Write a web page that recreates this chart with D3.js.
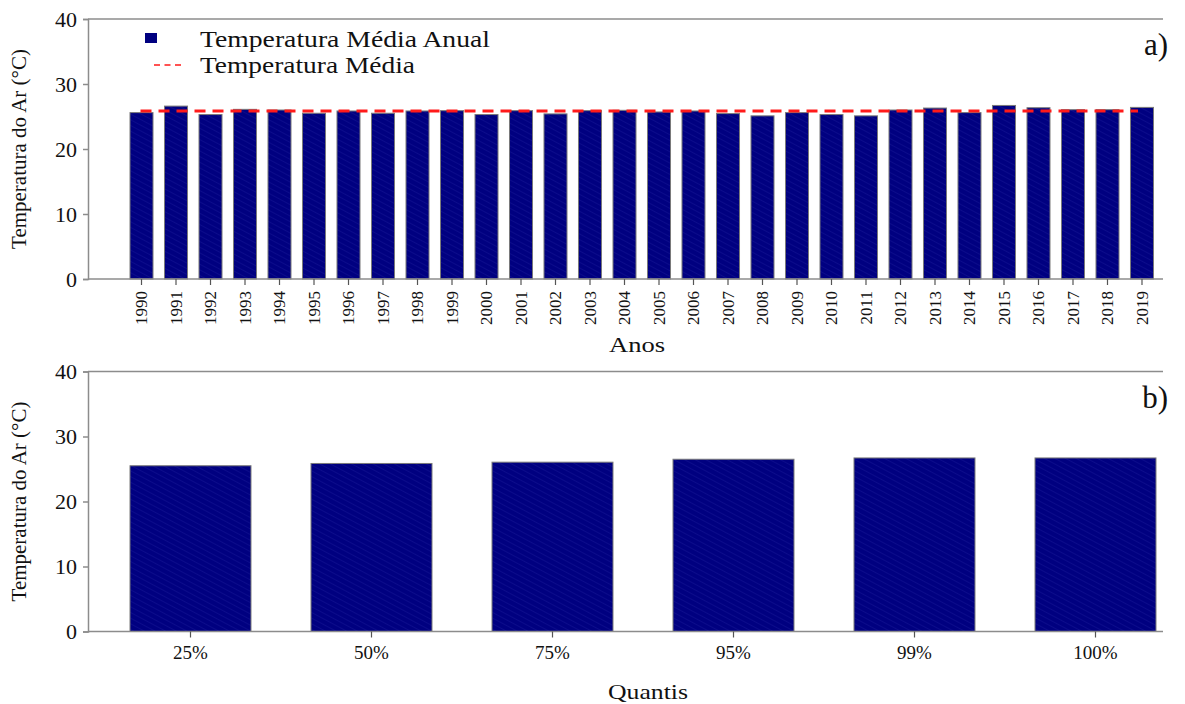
<!DOCTYPE html>
<html>
<head>
<meta charset="utf-8">
<script src="https://cdn.jsdelivr.net/npm/d3@7"></script>
<style>
  html, body { margin: 0; padding: 0; background: #fff; }
  svg text { font-family: "Liberation Serif", "Times New Roman", Times, "DejaVu Serif", serif; }
</style>
</head>
<body>
<svg id="chart" width="1185" height="704"></svg>
<script>
// Annual mean air temperature (°C), 1990–2019
const years = ["1990","1991","1992","1993","1994","1995","1996","1997","1998","1999",
               "2000","2001","2002","2003","2004","2005","2006","2007","2008","2009",
               "2010","2011","2012","2013","2014","2015","2016","2017","2018","2019"];
const annualTemp = [25.6, 26.6, 25.3, 26.1, 26.0, 25.5, 25.85, 25.5, 25.85, 25.9,
                    25.3, 25.9, 25.4, 25.9, 25.95, 25.7, 25.85, 25.45, 25.1, 25.6,
                    25.3, 25.1, 26.0, 26.3, 25.6, 26.7, 26.35, 26.05, 26.05, 26.4];
const meanTemp = 25.85;

// Quantiles of the annual series
const quantiles = ["25%", "50%", "75%", "95%", "99%", "100%"];
const quantileTemp = [25.5, 25.85, 26.05, 26.5, 26.7, 26.7];

const yTicks = [0, 10, 20, 30, 40];
const yLabel = "Temperatura do Ar (°C)";

const FONT = '"Liberation Serif", "Times New Roman", Times, "DejaVu Serif", serif';
const svg = d3.select("#chart").attr("font-family", FONT);
const navy = "#000080";
const axisColor = "#8c8c8c";

// Subtle diagonal hatching inside the bars
const defs = svg.append("defs");
const pat = defs.append("pattern")
  .attr("id", "hatch")
  .attr("patternUnits", "userSpaceOnUse")
  .attr("width", 5).attr("height", 5)
  .attr("patternTransform", "rotate(-62)");
pat.append("rect").attr("width", 5).attr("height", 5).attr("fill", navy);
pat.append("line").attr("x1", 0).attr("y1", 0).attr("x2", 0).attr("y2", 5)
  .attr("stroke", "#2a2aa6").attr("stroke-width", 1).attr("opacity", 0.55);

function panel(cfg) {
  const g = svg.append("g");
  const y = d3.scaleLinear().domain([0, 40]).range([cfg.bottom, cfg.top]);
  const x = d3.scaleBand().domain(cfg.cats)
    .range([cfg.bandStart, cfg.bandEnd])
    .paddingInner(cfg.padInner).paddingOuter(0);

  // Top frame line
  g.append("line")
    .attr("x1", cfg.left).attr("x2", cfg.right)
    .attr("y1", cfg.top).attr("y2", cfg.top)
    .attr("stroke", axisColor).attr("stroke-width", 1.5);

  // Bars
  g.append("g").selectAll("rect")
    .data(cfg.values)
    .join("rect")
    .attr("x", (d, i) => x(cfg.cats[i]))
    .attr("width", x.bandwidth())
    .attr("y", d => y(d))
    .attr("height", d => y(0) - y(d))
    .attr("fill", "url(#hatch)")
    .attr("stroke", "#7a7a7a")
    .attr("stroke-width", 1);

  // Y axis
  const yAxis = g.append("g")
    .attr("transform", `translate(${cfg.left},0)`)
    .call(d3.axisLeft(y).tickValues(yTicks).tickSize(5).tickPadding(6));
  yAxis.attr("font-family", FONT);
  yAxis.selectAll("path, line").attr("stroke", axisColor).attr("stroke-width", 1.5);
  yAxis.selectAll("text").attr("font-size", 22).attr("fill", "#111");

  // X axis
  const xAxis = g.append("g")
    .attr("transform", `translate(0,${cfg.bottom})`)
    .call(d3.axisBottom(x).tickSize(6).tickSizeOuter(0).tickPadding(cfg.rotate ? 6 : 8));
  xAxis.attr("font-family", FONT);
  xAxis.select(".domain")
    .attr("d", `M${cfg.left},0H${cfg.right}`)
    .attr("stroke", axisColor).attr("stroke-width", 1.5);
  xAxis.selectAll(".tick line").attr("stroke", "#555").attr("stroke-width", 1.2);
  const xt = xAxis.selectAll("text").attr("font-size", cfg.xFont).attr("fill", "#111");
  if (cfg.rotate) {
    xt.attr("transform", "rotate(-90)")
      .attr("text-anchor", "end")
      .attr("x", -12).attr("y", 0).attr("dy", "0.35em");
  }

  // Y axis title
  g.append("text")
    .attr("transform", `translate(26,${(cfg.top + cfg.bottom) / 2}) rotate(-90)`)
    .attr("text-anchor", "middle")
    .attr("font-size", 21).attr("fill", "#111")
    .text(yLabel);

  // Panel letter
  g.append("text")
    .attr("x", 1168).attr("y", cfg.top + 36)
    .attr("text-anchor", "end")
    .attr("font-size", 31).attr("fill", "#111")
    .text(cfg.letter);

  // X axis title
  g.append("text")
    .attr("x", cfg.titleX).attr("y", cfg.titleY)
    .attr("text-anchor", "middle")
    .attr("font-size", 22).attr("fill", "#111")
    .attr("textLength", cfg.titleLen).attr("lengthAdjust", "spacingAndGlyphs")
    .text(cfg.xTitle);

  return { g, x, y };
}

// a) annual series
const a = panel({
  cats: years, values: annualTemp,
  top: 19, bottom: 279, left: 88, right: 1163,
  bandStart: 130, bandEnd: 1153.5, padInner: 0.333,
  rotate: true, xFont: 17, letter: "a)",
  xTitle: "Anos", titleX: 637, titleY: 352, titleLen: 56
});

// Long-term mean line
const xa = a.x, ya = a.y;
a.g.append("line")
  .attr("x1", xa(years[0]) + xa.bandwidth() / 2 - 1)
  .attr("x2", xa(years[years.length - 1]) + xa.bandwidth() / 2 - 4)
  .attr("y1", ya(meanTemp)).attr("y2", ya(meanTemp))
  .attr("stroke", "#ff1a1a").attr("stroke-width", 3)
  .attr("stroke-dasharray", "11,7");

// Legend
const lg = a.g.append("g");
lg.append("rect").attr("x", 145).attr("y", 33).attr("width", 12).attr("height", 10)
  .attr("fill", navy);
lg.append("text").attr("x", 200).attr("y", 47).attr("font-size", 23).attr("fill", "#111")
  .attr("textLength", 290).attr("lengthAdjust", "spacingAndGlyphs")
  .text("Temperatura Média Anual");
lg.append("line").attr("x1", 154).attr("x2", 183).attr("y1", 65).attr("y2", 65)
  .attr("stroke", "#ff1a1a").attr("stroke-width", 1.5).attr("stroke-dasharray", "6,4.5");
lg.append("text").attr("x", 200).attr("y", 73).attr("font-size", 23).attr("fill", "#111")
  .attr("textLength", 215).attr("lengthAdjust", "spacingAndGlyphs")
  .text("Temperatura Média");

// b) quantiles
panel({
  cats: quantiles, values: quantileTemp,
  top: 371.5, bottom: 631.5, left: 88, right: 1163,
  bandStart: 130, bandEnd: 1156, padInner: 0.3315,
  rotate: false, xFont: 19, letter: "b)",
  xTitle: "Quantis", titleX: 648, titleY: 699, titleLen: 80
});
</script>
</body>
</html>
